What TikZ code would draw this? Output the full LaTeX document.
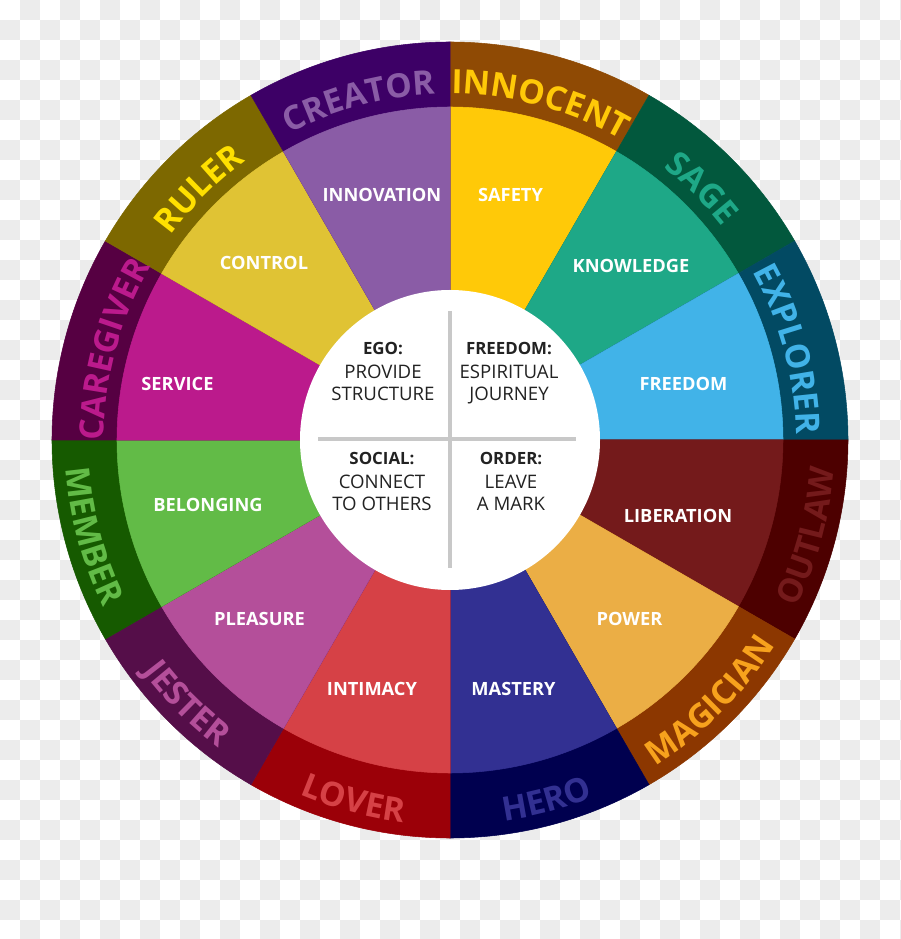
\documentclass[tikz,border=0pt]{standalone}
\usepackage{fontspec}
\setmainfont{Open Sans}
\usepackage{tikz}
\usetikzlibrary{decorations.text}

% 外环颜色（深色）与扇形颜色
\definecolor{innocentring}{HTML}{8F4A04}
\definecolor{innocent}{HTML}{FFC908}
\definecolor{sagering}{HTML}{02583D}
\definecolor{sage}{HTML}{1EA887}
\definecolor{explorerring}{HTML}{024A63}
\definecolor{explorer}{HTML}{41B3E8}
\definecolor{outlawring}{HTML}{4D0000}
\definecolor{outlaw}{HTML}{741A1B}
\definecolor{magicianring}{HTML}{8C3700}
\definecolor{magician}{HTML}{EBAE45}
\definecolor{magiciantext}{HTML}{F7A21D}
\definecolor{heroring}{HTML}{00004F}
\definecolor{hero}{HTML}{323092}
\definecolor{loverring}{HTML}{9B0008}
\definecolor{lover}{HTML}{D64146}
\definecolor{jesterring}{HTML}{550E49}
\definecolor{jester}{HTML}{B44F9A}
\definecolor{memberring}{HTML}{165A00}
\definecolor{member}{HTML}{62BB47}
\definecolor{caregiverring}{HTML}{560042}
\definecolor{caregiver}{HTML}{BB1A8C}
\definecolor{rulerring}{HTML}{7D6800}
\definecolor{ruler}{HTML}{E0C334}
\definecolor{rulertext}{HTML}{FFE000}
\definecolor{creatorring}{HTML}{3D0066}
\definecolor{creator}{HTML}{8A5CA6}
\definecolor{checker}{HTML}{ECECEC}
\definecolor{crossgray}{HTML}{C8C8C8}
\definecolor{coretext}{HTML}{222222}

\newcommand{\ringfont}{\bfseries\fontsize{19}{20}\selectfont}
\newcommand{\corehead}{\bfseries\fontsize{9.6}{11}\selectfont}

\tikzset{
  wedgelabel/.style={text=white, inner sep=0pt, font=\bfseries\fontsize{10.4}{12}\selectfont},
  corelabel/.style={align=center, anchor=north, inner sep=0pt, text=coretext,
    font=\fontsize{10.6}{12.5}\selectfont},
  crossline/.style={crossgray, line width=2.5pt},
}

\begin{document}
\begin{tikzpicture}[x=0.02cm, y=0.02cm]
    % 参数设置
    \def\rout{398}  % 外环半径
    \def\rin{333}   % 扇形半径
    \def\rcore{150} % 中心白圆半径
    \def\rtop{346}  % 上半部文字基线
    \def\rbot{385}  % 下半部文字基线

    \useasboundingbox (-450,-499) rectangle (450,440);

    % 背景棋盘格
    \foreach \j in {0,...,46} {
        \pgfmathtruncatemacro\s{mod(\j+1,2)}
        \foreach \i in {0,...,22}
            \fill[checker] ({20*(2*\i+\s)-450},{440-20*\j}) rectangle ++(20,-20);
    }

    % 十二个扇区：外环 + 内扇形
    \foreach \ang/\ringc/\wedgec in {90/innocentring/innocent, 60/sagering/sage,
        30/explorerring/explorer, 0/outlawring/outlaw, -30/magicianring/magician,
        -60/heroring/hero, -90/loverring/lover, -120/jesterring/jester,
        -150/memberring/member, 180/caregiverring/caregiver, 150/rulerring/ruler,
        120/creatorring/creator} {
        \filldraw[fill=\ringc, draw=\ringc, line width=0.3pt] (0,0) -- (\ang:\rout)
            arc[start angle=\ang, end angle=\ang-30, radius=\rout] -- cycle;
        \filldraw[fill=\wedgec, draw=\wedgec, line width=0.3pt] (0,0) -- (\ang:\rin)
            arc[start angle=\ang, end angle=\ang-30, radius=\rin] -- cycle;
    }

    % 外环文字（上半部顺时针）
    \foreach \ang/\col/\lbl in {180/caregiver/CAREGIVER, 150/rulertext/RULER,
        120/creator/CREATOR, 90/innocent/INNOCENT, 60/sage/SAGE, 30/explorer/EXPLORER}
        \path[decorate, decoration={text along path, text align=center, text color=\col,
            text/.expanded={|\noexpand\ringfont|\lbl}}]
            (\ang+15:\rtop) arc[start angle=\ang+15, end angle=\ang-45, radius=\rtop];

    % 外环文字（下半部逆时针）
    \foreach \ang/\col/\lbl in {-30/outlaw/OUTLAW, -60/magiciantext/MAGICIAN,
        -90/hero/HERO, -120/lover/LOVER, -150/jester/JESTER, -180/member/MEMBER}
        \path[decorate, decoration={text along path, text align=center, text color=\col,
            text/.expanded={|\noexpand\ringfont|\lbl}}]
            (\ang-15:\rbot) arc[start angle=\ang-15, end angle=\ang+45, radius=\rbot];

    % 扇形文字
    \node[wedgelabel] (innovation) at (-68,245.5) {INNOVATION};
    \node[wedgelabel] (safety) at (60.5,245.5) {SAFETY};
    \node[wedgelabel] (knowledge) at (181,174.5) {KNOWLEDGE};
    \node[wedgelabel] (control) at (-186,177.5) {CONTROL};
    \node[wedgelabel] (service) at (-272.5,56.5) {SERVICE};
    \node[wedgelabel] (freedom) at (233.5,56.5) {FREEDOM};
    \node[wedgelabel] (belonging) at (-242,-65) {BELONGING};
    \node[wedgelabel] (liberation) at (228,-76) {LIBERATION};
    \node[wedgelabel] (pleasure) at (-190.5,-179) {PLEASURE};
    \node[wedgelabel] (power) at (179.5,-179) {POWER};
    \node[wedgelabel] (intimacy) at (-78,-249) {INTIMACY};
    \node[wedgelabel] (mastery) at (63.5,-249) {MASTERY};

    % 中心白圆与十字线
    \fill[white] (0,0) circle[radius=\rcore];
    \draw[crossline] (0,129) -- (0,-128);
    \draw[crossline] (-132,1) -- (126,1);

    % 中心四象限文字
    \node[corelabel] (ego) at (-67,98) {{\corehead EGO:}\\[1pt]PROVIDE\\STRUCTURE};
    \node[corelabel] (spirit) at (59,98) {{\corehead FREEDOM:}\\[1pt]ESPIRITUAL\\JOURNEY};
    \node[corelabel] (social) at (-68,-12) {{\corehead SOCIAL:}\\[1pt]CONNECT\\TO OTHERS};
    \node[corelabel] (order) at (61,-12) {{\corehead ORDER:}\\[1pt]LEAVE\\A MARK};
\end{tikzpicture}
\end{document}
